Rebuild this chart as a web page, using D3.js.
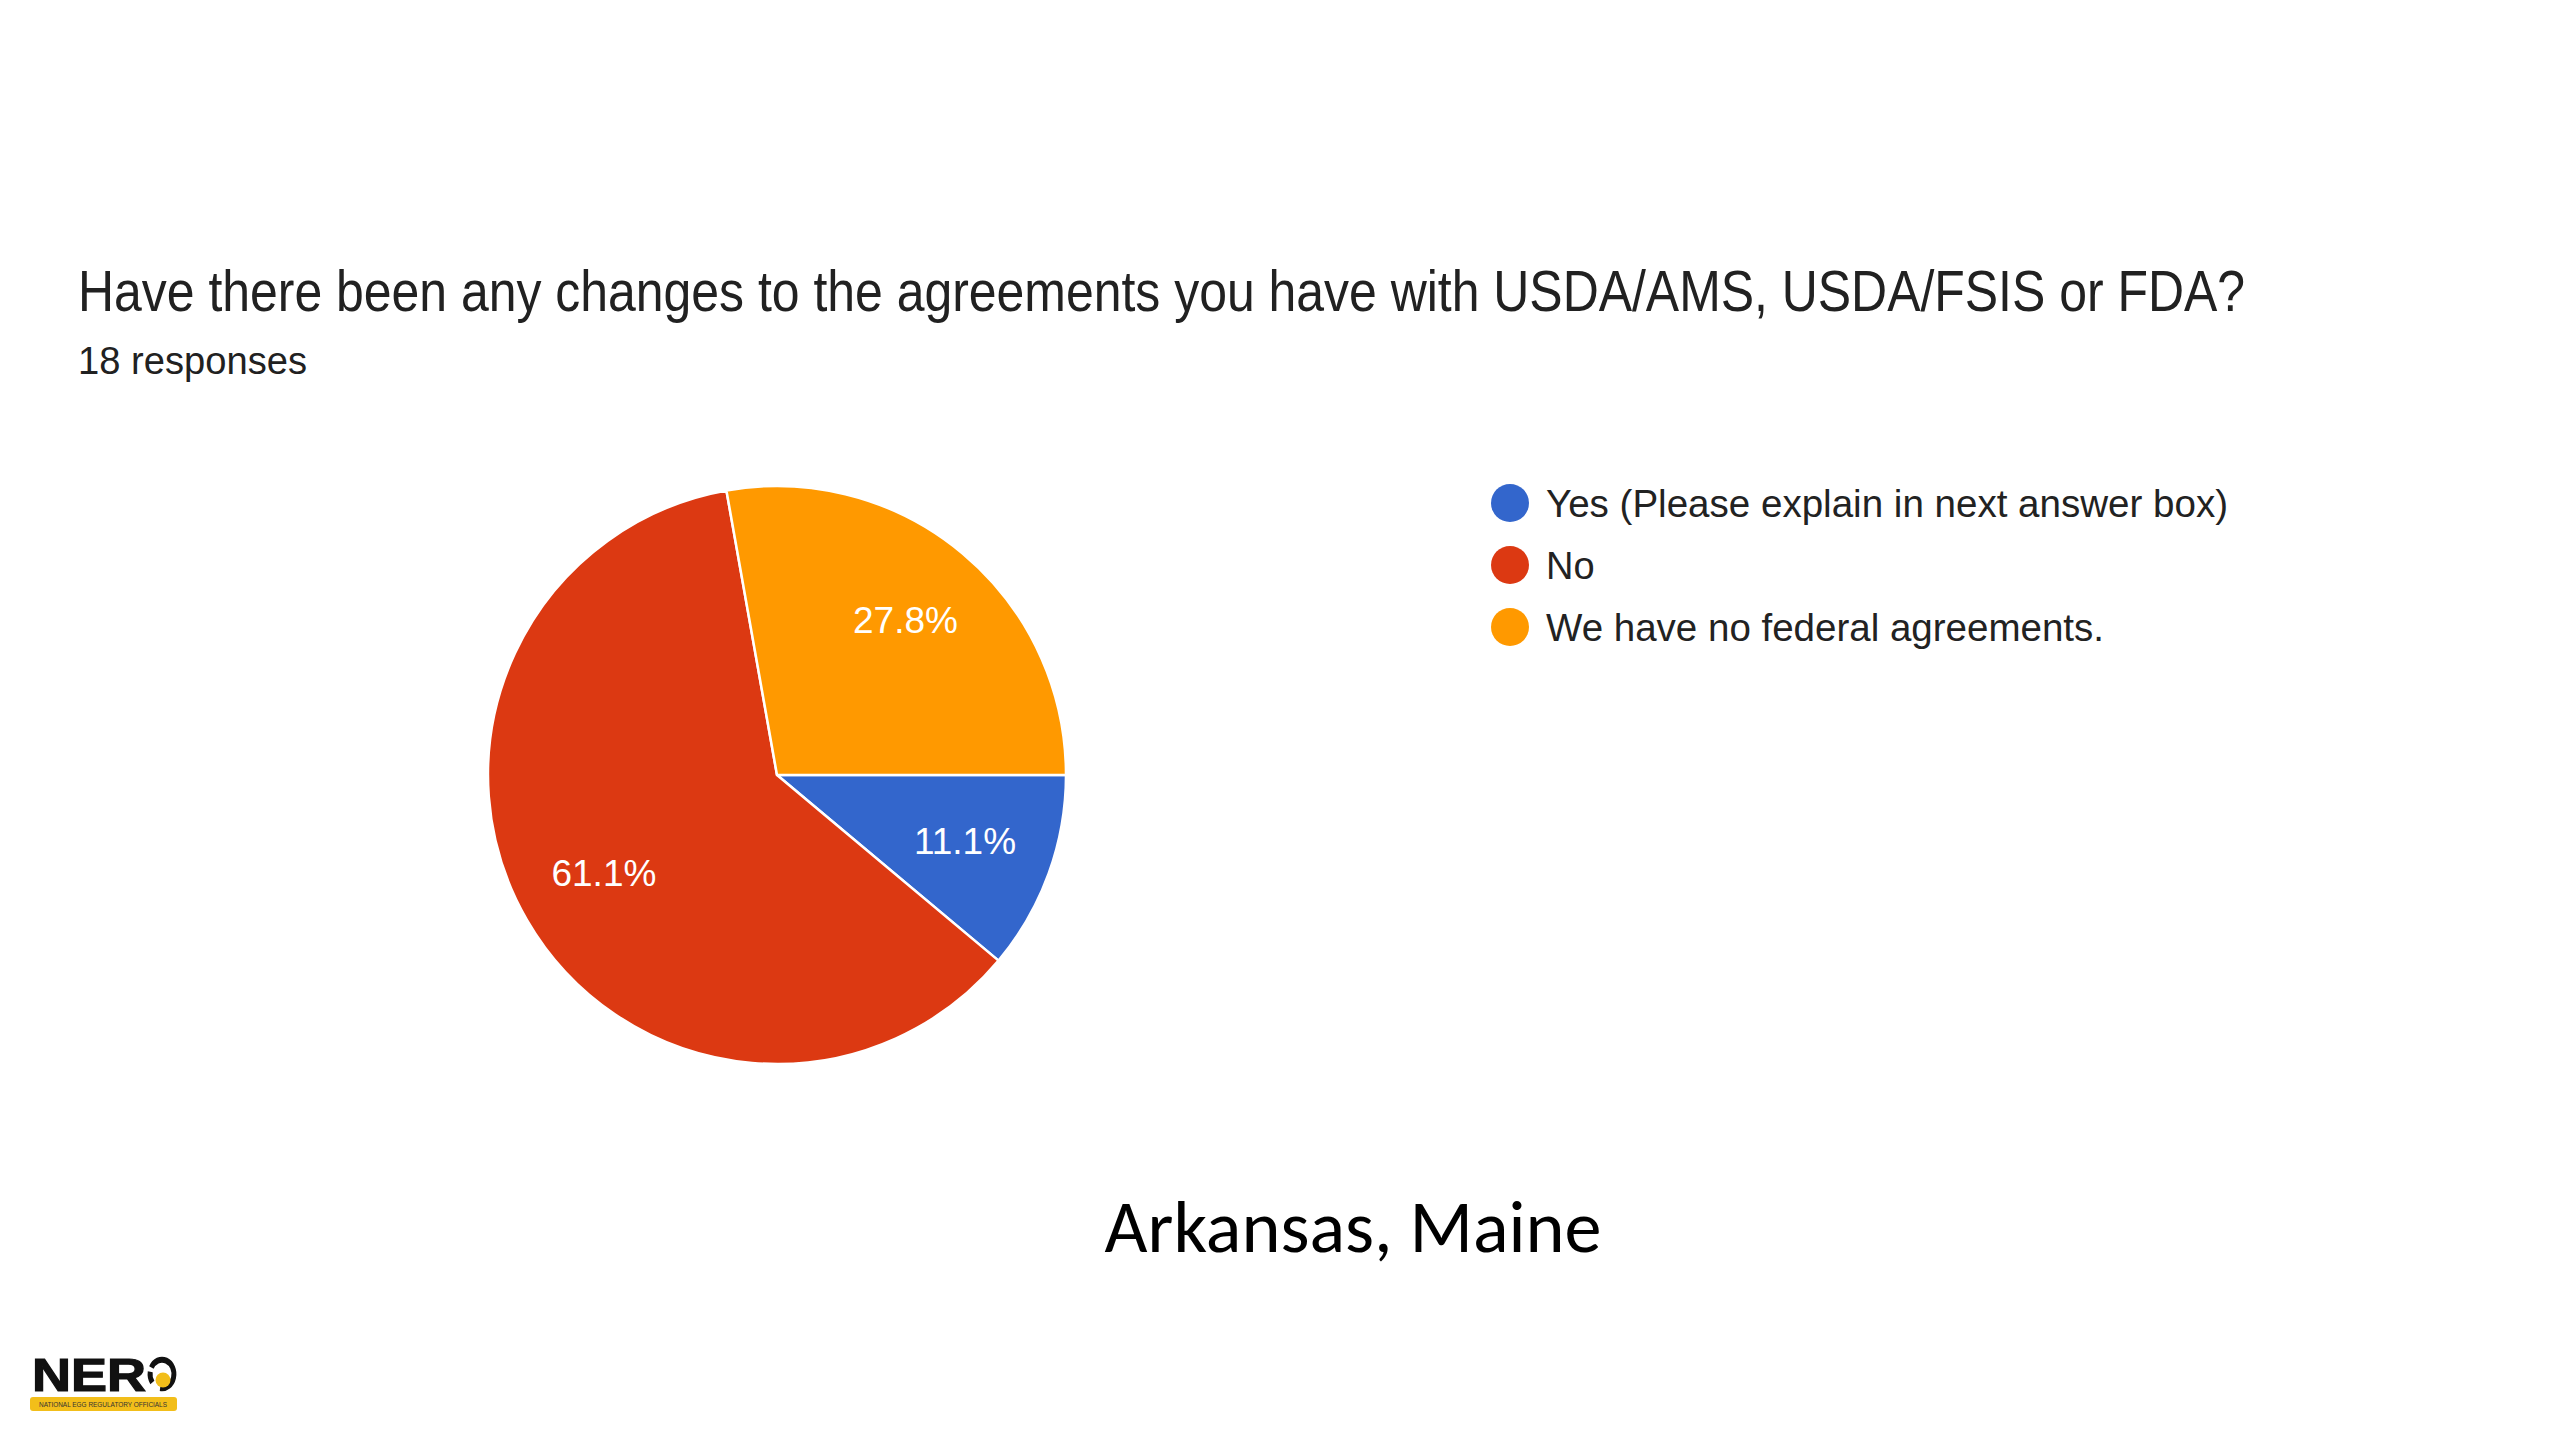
<!DOCTYPE html>
<html>
<head>
<meta charset="utf-8">
<script src="https://cdn.jsdelivr.net/npm/d3@7"></script>
<style>
  html, body { margin: 0; padding: 0; background: #fff; }
  svg { display: block; }
</style>
</head>
<body>
<svg id="chart" width="2560" height="1440"></svg>
<script>
// ---- data ----
const categories = ["Yes (Please explain in next answer box)", "No", "We have no federal agreements."];
const percentages = [11.1, 61.1, 27.8];
const sliceLabels = ["11.1%", "61.1%", "27.8%"];
const colors = ["#3366CC", "#DC3912", "#FF9900"];
const titleText = "Have there been any changes to the agreements you have with USDA/AMS, USDA/FSIS or FDA?";
const subtitleText = "18 responses";
const footerText = "Arkansas, Maine";

const svg = d3.select("#chart");
const W = 2560, H = 1440;
svg.append("rect").attr("width", W).attr("height", H).attr("fill", "#fff");

function fitWidth(sel, target) {
  const node = sel.node();
  const fs = parseFloat(sel.attr("font-size"));
  const w = node.getComputedTextLength();
  if (w > 0) sel.attr("font-size", (fs * target / w).toFixed(2));
}

// title (slightly condensed, as in the reference)
svg.append("text")
  .attr("x", 78).attr("y", 311)
  .attr("font-family", "'Liberation Sans', Arial, sans-serif")
  .attr("font-size", 57).attr("fill", "#212121")
  .attr("textLength", 2167).attr("lengthAdjust", "spacingAndGlyphs")
  .text(titleText);

svg.append("text")
  .attr("x", 78).attr("y", 374)
  .attr("font-family", "'Liberation Sans', Arial, sans-serif")
  .attr("font-size", 39).attr("fill", "#212121")
  .attr("textLength", 229).attr("lengthAdjust", "spacingAndGlyphs")
  .text(subtitleText);

// pie
const cx = 777, cy = 775, R = 289;
const pie = d3.pie().sort(null).value(d => d)
  .startAngle(Math.PI / 2).endAngle(Math.PI / 2 + 2 * Math.PI);
const arcs = pie(percentages);
const arc = d3.arc().innerRadius(0).outerRadius(R);
const labelArc = d3.arc().innerRadius(200).outerRadius(200);
const colorScale = d3.scaleOrdinal().domain(categories).range(colors);

const g = svg.append("g").attr("transform", `translate(${cx},${cy})`);
g.selectAll("path.slice").data(arcs).enter().append("path")
  .attr("class", "slice")
  .attr("d", arc)
  .attr("fill", (d, i) => colorScale(categories[i]))
  .attr("stroke", "#fff").attr("stroke-width", 2.5).attr("stroke-linejoin", "round");

g.selectAll("text.lbl").data(arcs).enter().append("text")
  .attr("class", "lbl")
  .attr("transform", d => `translate(${labelArc.centroid(d)})`)
  .attr("text-anchor", "middle").attr("dy", "0.3em")
  .attr("font-family", "'Liberation Sans', Arial, sans-serif")
  .attr("font-size", 37).attr("fill", "#fff")
  .text((d, i) => sliceLabels[i]);

// legend
const legendY = d3.scalePoint().domain(categories).range([503, 627]);
const legendWidths = [682, 70, 558];
const lg = svg.append("g");
const items = lg.selectAll("g.item").data(categories).enter().append("g")
  .attr("class", "item")
  .attr("transform", d => `translate(1510,${legendY(d)})`);
items.append("circle").attr("r", 19).attr("fill", d => colorScale(d));
items.append("text")
  .attr("x", 36).attr("y", 14)
  .attr("font-family", "'Liberation Sans', Arial, sans-serif")
  .attr("font-size", 38).attr("fill", "#222")
  .text(d => d);
items.select("text").filter((d, i) => i !== 1)
  .attr("textLength", (d, i) => i === 0 ? legendWidths[0] : legendWidths[2])
  .attr("lengthAdjust", "spacingAndGlyphs");

// footer
const foot = svg.append("text")
  .attr("x", 1353).attr("y", 1252).attr("text-anchor", "middle")
  .attr("font-family", "Carlito, Lato, sans-serif")
  .attr("font-size", 68).attr("fill", "#000")
  .text(footerText);
fitWidth(foot, 497);

// logo
const logo = svg.append("g");
logo.append("rect").attr("x", 30).attr("y", 1397).attr("width", 147).attr("height", 14)
  .attr("rx", 3).attr("fill", "#F2BE1A");
logo.append("text").attr("x", 103).attr("y", 1407).attr("text-anchor", "middle")
  .attr("font-family", "'Liberation Sans', Arial, sans-serif").attr("font-size", 6.5)
  .attr("fill", "#333").attr("textLength", 128).attr("lengthAdjust", "spacingAndGlyphs")
  .text("NATIONAL EGG REGULATORY OFFICIALS");
logo.append("text").attr("x", 32).attr("y", 1391)
  .attr("font-family", "'Liberation Sans', Arial, sans-serif").attr("font-weight", "900")
  .attr("font-size", 46).attr("fill", "#111").attr("stroke", "#111").attr("stroke-width", 1.2)
  .attr("textLength", 114).attr("lengthAdjust", "spacingAndGlyphs")
  .text("NER");
logo.append("path")
  .attr("d", d3.arc()({innerRadius: 10.5, outerRadius: 16, startAngle: -0.35 * Math.PI, endAngle: 1.05 * Math.PI}))
  .attr("transform", "translate(162,1374) scale(0.9,1.08)")
  .attr("fill", "#111");
logo.append("path")
  .attr("d", d3.arc()({innerRadius: 10.5, outerRadius: 16, startAngle: 1.3 * Math.PI, endAngle: 1.55 * Math.PI}))
  .attr("transform", "translate(162,1374) scale(0.9,1.08)")
  .attr("fill", "#111");
logo.append("circle").attr("cx", 163).attr("cy", 1380).attr("r", 7.5).attr("fill", "#F2BE1A");
</script>
</body>
</html>
